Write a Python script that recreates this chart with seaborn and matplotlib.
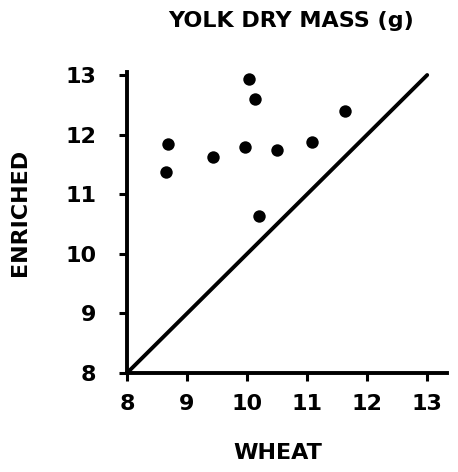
import pandas as pd
import seaborn as sns
import matplotlib.pyplot as plt

# yolk dry mass (g), hens on wheat vs enriched diet
wheat = [8.65, 8.68, 9.43, 9.97, 10.03, 10.13, 10.20, 10.50, 11.08, 11.63]
enriched = [11.38, 11.84, 11.62, 11.79, 12.94, 12.59, 10.64, 11.75, 11.88, 12.40]
# line of equality
line_x = [8, 13]
line_y = [8, 13]

df = pd.DataFrame({'wheat': wheat, 'enriched': enriched})
ref = pd.DataFrame({'x': line_x, 'y': line_y})

sns.set_style('ticks')
plt.rcParams['font.family'] = ['DejaVu Sans']
plt.rcParams['font.weight'] = 'bold'
for k in ['text.color', 'axes.labelcolor', 'xtick.color', 'ytick.color', 'axes.edgecolor']:
    plt.rcParams[k] = 'black'

fig = plt.figure(figsize=(4.58, 4.72), dpi=100)
ax = fig.add_axes([0.2773, 0.2097, 0.6987, 0.6377])

sns.lineplot(data=ref, x='x', y='y', ax=ax, color='black', linewidth=2.8)
sns.scatterplot(data=df, x='wheat', y='enriched', ax=ax, color='black', s=80,
                edgecolor='black', linewidth=0, zorder=3, clip_on=False)

ax.set_xlim(8, 13.33)
ax.set_ylim(8, 13.05)
ax.set_xticks(range(8, 14))
ax.set_yticks(range(8, 14))
ax.tick_params(direction='out', length=6, width=2.2, labelsize=16)
ax.tick_params(axis='x', pad=9)
ax.tick_params(axis='y', pad=16)
for lab in ax.get_xticklabels() + ax.get_yticklabels():
    lab.set_fontweight('bold')

sns.despine(ax=ax)
for s in ['left', 'bottom']:
    ax.spines[s].set_linewidth(2.8)

lab_font = dict(fontsize=16, fontweight='bold')
ax.set_xlabel('WHEAT', va='top', **lab_font)
ax.xaxis.set_label_coords(0.472, -0.233)
ax.set_ylabel('ENRICHED', va='top', **lab_font)
ax.yaxis.set_label_coords(-0.365, 0.532)
fig.text(0.636, 0.955, 'YOLK DRY MASS (g)', ha='center', va='center', **lab_font)

fig.savefig('out.png', dpi=100)
